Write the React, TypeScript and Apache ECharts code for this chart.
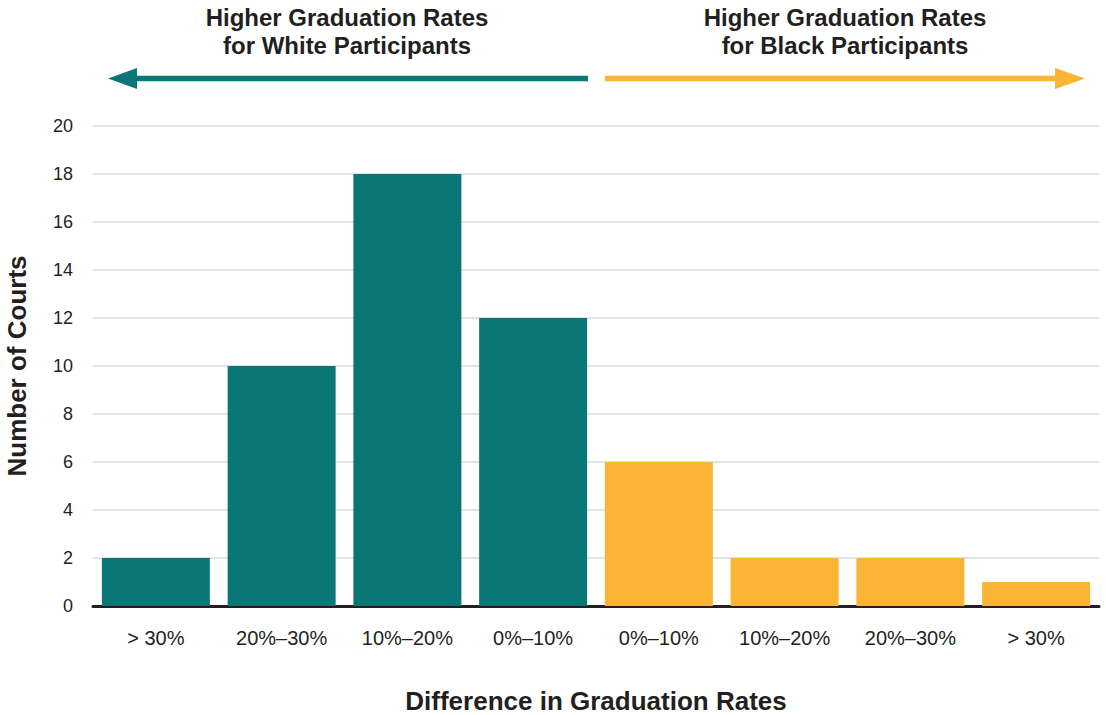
import React, { useEffect, useRef } from "react";
import * as echarts from "echarts";

const categories = ["> 30%", "20%–30%", "10%–20%", "0%–10%", "0%–10%", "10%–20%", "20%–30%", "> 30%"];
const courtCounts = [2, 10, 18, 12, 6, 2, 2, 1];
const groups = ["white", "white", "white", "white", "black", "black", "black", "black"];
const yTicks = { min: 0, max: 20, interval: 2 };
const titleWhite = "Higher Graduation Rates\nfor White Participants";
const titleBlack = "Higher Graduation Rates\nfor Black Participants";
const xName = "Difference in Graduation Rates";
const yName = "Number of Courts";

const TEAL = "#0a7776";
const ORANGE = "#f9b533";
const FONT = "'Liberation Sans', Arial, sans-serif";
const INK = "#231f20";

export default function App() {
  const ref = useRef<HTMLDivElement>(null);
  useEffect(() => {
    if (!ref.current) return;
    const chart = echarts.init(ref.current, undefined, { renderer: "svg" });
    chart.setOption({
      animation: false,
      backgroundColor: "#ffffff",
      textStyle: { fontFamily: FONT },
      grid: { left: 93, right: 7, top: 126, bottom: 109 },
      xAxis: {
        type: "category",
        data: categories,
        axisTick: { show: false },
        axisLine: { lineStyle: { color: INK, width: 3 } },
        axisLabel: { color: INK, fontSize: 20, margin: 22, fontFamily: FONT },
      },
      yAxis: {
        type: "value",
        min: yTicks.min,
        max: yTicks.max,
        interval: yTicks.interval,
        axisLine: { show: false },
        axisTick: { show: false },
        axisLabel: { color: INK, fontSize: 18, margin: 20, fontFamily: FONT },
        splitLine: { lineStyle: { color: "#d3dbe0", width: 1.5 } },
      },
      series: [
        {
          type: "bar",
          barWidth: 108,
          data: courtCounts.map((v, i) => ({
            value: v,
            itemStyle: { color: groups[i] === "white" ? TEAL : ORANGE },
          })),
        },
      ],
      graphic: [
        {
          type: "text",
          x: 347,
          y: 3,
          style: {
            text: titleWhite,
            align: "center",
            verticalAlign: "top",
            fontSize: 24,
            fontWeight: "bold",
            lineHeight: 28,
            fill: INK,
            fontFamily: FONT,
          },
        },
        {
          type: "text",
          x: 845,
          y: 3,
          style: {
            text: titleBlack,
            align: "center",
            verticalAlign: "top",
            fontSize: 24,
            fontWeight: "bold",
            lineHeight: 28,
            fill: INK,
            fontFamily: FONT,
          },
        },
        {
          type: "line",
          shape: { x1: 132, y1: 78.5, x2: 588, y2: 78.5 },
          style: { stroke: TEAL, lineWidth: 5.5 },
        },
        {
          type: "polygon",
          shape: { points: [[108, 78.5], [137, 68], [137, 89]] },
          style: { fill: TEAL },
        },
        {
          type: "line",
          shape: { x1: 605, y1: 78.5, x2: 1060, y2: 78.5 },
          style: { stroke: ORANGE, lineWidth: 5.5 },
        },
        {
          type: "polygon",
          shape: { points: [[1085, 78.5], [1055, 68], [1055, 89]] },
          style: { fill: ORANGE },
        },
        {
          type: "text",
          x: 596,
          y: 701,
          style: {
            text: xName,
            align: "center",
            verticalAlign: "middle",
            fontSize: 26,
            fontWeight: "bold",
            fill: INK,
            fontFamily: FONT,
          },
        },
        {
          type: "text",
          x: 17,
          y: 366,
          rotation: Math.PI / 2,
          style: {
            text: yName,
            align: "center",
            verticalAlign: "middle",
            fontSize: 26,
            fontWeight: "bold",
            fill: INK,
            fontFamily: FONT,
          },
        },
      ],
    });
    return () => chart.dispose();
  }, []);
  return (
    <div
      ref={ref}
      style={{ position: "fixed", left: 0, top: 0, width: 1106, height: 715 }}
    />
  );
}
